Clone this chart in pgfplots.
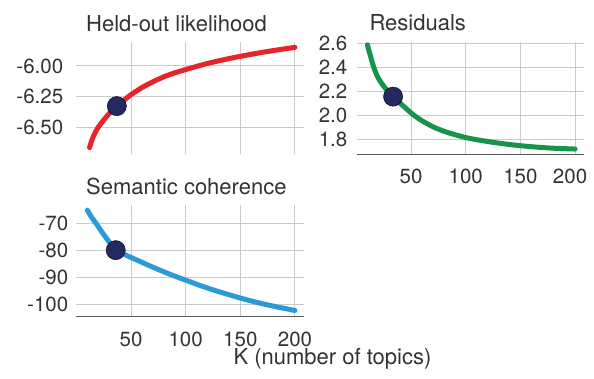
\documentclass[border=0pt]{standalone}
\usepackage{fontspec}
\setmainfont{TeX Gyre Heros}
\usepackage{pgfplots}
\pgfplotsset{compat=1.18}
\definecolor{cred}{HTML}{E8232A}
\definecolor{cgreen}{HTML}{16944A}
\definecolor{cblue}{HTML}{2B9BD7}
\definecolor{cdot}{HTML}{232A62}
\definecolor{ctext}{HTML}{333333}
\definecolor{cgrid}{HTML}{CBCBCB}
\definecolor{caxis}{HTML}{5A5A5A}
\pgfplotsset{
 panel/.style={
  scale only axis, width=227.3pt, height=112pt,
  xmin=0, xmax=208,
  xtick={50,100,150,200},
  grid=major,
  major grid style={cgrid, line width=1pt},
  tick style={draw=none},
  axis y line*=left, y axis line style={draw=none},
  axis x line*=bottom, x axis line style={-, draw=caxis, line width=1.5pt},
  tick label style={font=\fontsize{20.5}{24}\selectfont, text=ctext, inner sep=0pt},
  yticklabel style={anchor=east},
  xticklabel style={anchor=north},
  clip=false,
  anchor=south west,
 },
 curve/.style={line width=5pt, line cap=round, line join=round, smooth},
 dot/.style={only marks, mark=*, mark size=9.6pt, mark options={fill=cdot, draw=none}},
}
\begin{document}
\begin{tikzpicture}
% Held-out likelihood
\begin{axis}[panel, at={(76.4pt,-154.3pt)},
  ymin=-6.7145, ymax=-5.809,
  ytick={-6.5,-6.25,-6}, yticklabels={-6.50,-6.25,-6.00},
  xticklabels={,,,}, x axis line style={draw=none},
  yticklabel style={xshift=-13pt}]
\addplot[curve, cred] coordinates {
(12,-6.66) (14,-6.605) (16,-6.56) (18,-6.525) (20,-6.495) (25,-6.437)
(30,-6.385) (37,-6.325) (44,-6.274) (50,-6.232) (60,-6.175) (70,-6.128)
(80,-6.088) (90,-6.056) (100,-6.029) (120,-5.980) (140,-5.940) (160,-5.906)
(180,-5.876) (200,-5.850)};
\addplot[dot] coordinates {(37,-6.325)};
\end{axis}
% Residuals
\begin{axis}[panel, at={(356.5pt,-154.3pt)},
  ymin=1.675, ymax=2.611,
  ytick={1.8,2.0,2.2,2.4,2.6}, yticklabels={1.8,2.0,2.2,2.4,2.6},
  xticklabels={50,100,150,\hspace*{-10pt}200},
  yticklabel style={xshift=-9pt}, xticklabel style={yshift=-14pt}]
\addplot[curve, cgreen] coordinates {
(10,2.59) (11,2.555) (12.5,2.505) (15,2.425) (17.5,2.36) (20,2.31) (25,2.243) (29,2.20) (33,2.16)
(36,2.133) (42,2.085) (50,2.02) (55,1.985) (60,1.955) (70,1.905) (80,1.868)
(90,1.839) (100,1.815) (110,1.797) (125,1.775) (140,1.757) (150,1.747)
(165,1.735) (180,1.726) (200,1.719)};
\addplot[dot] coordinates {(33.5,2.157)};
\end{axis}
% Semantic coherence
\begin{axis}[panel, at={(76.4pt,-316.7pt)},
  ymin=-104.6, ymax=-63.2,
  ytick={-100,-90,-80,-70}, yticklabels={-100,-90,-80,-70},
  xticklabels={50,100,150,200},
  yticklabel style={xshift=-8pt}, xticklabel style={yshift=-15pt}]
\addplot[curve, cblue] coordinates {
(10,-65.2) (14,-67.9) (18,-70.1) (22,-72.5) (26,-74.8) (30,-77.0) (33,-78.6) (36,-80.0)
(42,-81.2) (50,-82.7) (60,-84.5) (70,-86.3) (80,-88.0) (90,-89.6) (100,-91.1)
(115,-93.3) (130,-95.3) (150,-97.7) (167,-99.5) (185,-101.1) (200,-102.3)};
\addplot[dot] coordinates {(36,-80.0)};
\end{axis}
\begin{scope}[every node/.style={inner sep=0pt, anchor=base west, text=ctext, font=\fontsize{22}{26}\selectfont}]
\node at (86pt,-31.7pt) {Held-out likelihood};
\node at (369.3pt,-30.7pt) {Residuals};
\node at (86pt,-194pt) {Semantic coherence};
\node at (233.3pt,-364.5pt) {K (number of topics)};
\end{scope}
\pgfresetboundingbox
\useasboundingbox (0pt,0pt) rectangle (594pt,-378pt);
\end{tikzpicture}
\end{document}
